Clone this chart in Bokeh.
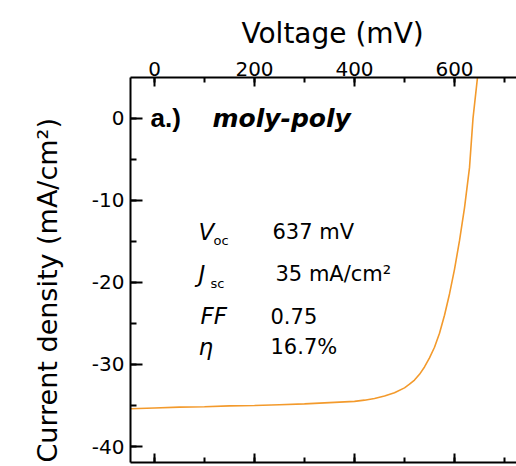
from bokeh.plotting import figure
from bokeh.models import (Range1d, LinearAxis, SingleIntervalTicker, Label,
                          PrintfTickFormatter, CustomLabelingPolicy, Title)
from bokeh.embed import file_html
from bokeh.resources import INLINE

# J-V curve of the moly-poly cell
voltage_mv = [-48, 0, 50, 100, 150, 200, 250, 300, 350, 400, 420, 440, 460,
              480, 500, 510, 520, 530, 540, 550, 560, 570, 580, 590, 600,
              610, 620, 630, 637, 646]
current_ma_cm2 = [-35.4, -35.3, -35.2, -35.15, -35.05, -35.0, -34.9, -34.8,
                  -34.65, -34.5, -34.35, -34.15, -33.85, -33.45, -32.85,
                  -32.4, -31.9, -31.2, -30.3, -29.2, -27.9, -26.2, -24.0,
                  -21.4, -18.4, -14.9, -10.9, -6.0, 0.0, 5.0]

# Cell parameters shown in the panel
param_names = ["V", "J", "FF", "\u03b7"]
param_subs = ["oc", "sc", "", ""]
param_values = ["637 mV", "35 mA/cm\u00b2", "0.75", "16.7%"]

FONT = "DejaVu Sans"
CURVE = "#f39a2c"
INK = "black"

p = figure(width=516, height=466,
           x_range=Range1d(-48, 724), y_range=Range1d(-41.95, 4.99),
           x_axis_location="above",
           output_backend="svg", toolbar_location=None,
           min_border_left=130, min_border_right=0,
           min_border_top=77, min_border_bottom=4)
p.outline_line_color = None
p.grid.visible = False
p.background_fill_color = "white"
p.border_fill_color = "white"

x_ticker = SingleIntervalTicker(interval=200, num_minor_ticks=2)
y_ticker = SingleIntervalTicker(interval=10, num_minor_ticks=2)
int_fmt = PrintfTickFormatter(format="%d")

top = p.xaxis[0]
top.ticker = x_ticker
top.formatter = int_fmt
top.major_label_text_font = FONT
top.major_label_text_font_size = "20px"
top.major_label_standoff = 2

left = p.yaxis[0]
left.ticker = y_ticker
left.formatter = int_fmt
left.major_label_text_font = FONT
left.major_label_text_font_size = "20px"
left.major_label_standoff = 6

# Bottom edge: ticks only, no numbers
no_labels = CustomLabelingPolicy(code="""
for (const i of indices) indices.unset(i)
return indices
""")
bottom = LinearAxis(ticker=x_ticker, formatter=int_fmt,
                    major_label_policy=no_labels, major_label_standoff=0,
                    major_label_text_font_size="1px", axis_label_standoff=0)
p.add_layout(bottom, "below")

for ax in (top, left, bottom):
    ax.axis_line_width = 2
    ax.major_tick_line_width = 2
    ax.minor_tick_line_width = 2
    ax.axis_line_color = INK
    ax.major_tick_line_color = INK
    ax.minor_tick_line_color = INK
    ax.major_label_text_color = INK
    ax.major_tick_out = 0
    ax.minor_tick_out = 0
for ax in (top, bottom):
    ax.major_tick_in = 9
    ax.minor_tick_in = 5
left.major_tick_in = 12
left.minor_tick_in = 6

# Axis titles, each set in its own side panel
p.add_layout(Title(text="Voltage (mV)", align="left", offset=111,
                   vertical_align="bottom", text_font=FONT,
                   text_font_size="28px", text_font_style="normal",
                   text_color=INK, standoff=17), "above")
p.add_layout(Title(text="Current density (mA/cm\u00b2)", align="left",
                   offset=0, vertical_align="bottom",
                   text_font=FONT, text_font_size="27px",
                   text_font_style="normal", text_color=INK,
                   standoff=52), "left")

p.line(voltage_mv, current_ma_cm2, line_color=CURVE, line_width=1.6)

# Panel tag
p.add_layout(Label(x=-8, y=0, text="a.)", text_font="Liberation Sans",
                   text_font_size="26px", text_font_style="bold",
                   text_color=INK, text_baseline="alphabetic"))
p.add_layout(Label(x=116, y=0, text="moly-poly", text_font=FONT,
                   text_font_size="25px", text_font_style="bold italic",
                   text_color=INK, text_baseline="alphabetic"))

# Parameter table
name_x = [88, 88, 92, 88]
sub_x = [118, 112, 0, 0]
value_x = [236, 242, 232, 232]
row_y = [-13.8, -19.0, -24.1, -27.9]
sub_dy = -1.1
for name, sub, val, nx, sx, vx, ry in zip(param_names, param_subs, param_values,
                                          name_x, sub_x, value_x, row_y):
    p.add_layout(Label(x=nx, y=ry, text=name, text_font=FONT,
                       text_font_size="23px", text_font_style="italic",
                       text_color=INK, text_baseline="alphabetic"))
    if sub:
        p.add_layout(Label(x=sx, y=ry + sub_dy, text=sub, text_font=FONT,
                           text_font_size="13px", text_color=INK,
                           text_baseline="alphabetic"))
    p.add_layout(Label(x=vx, y=ry, text=val, text_font=FONT,
                       text_font_size="21px", text_color=INK,
                       text_baseline="alphabetic"))

open("out.html", "w").write(file_html(p, INLINE))
